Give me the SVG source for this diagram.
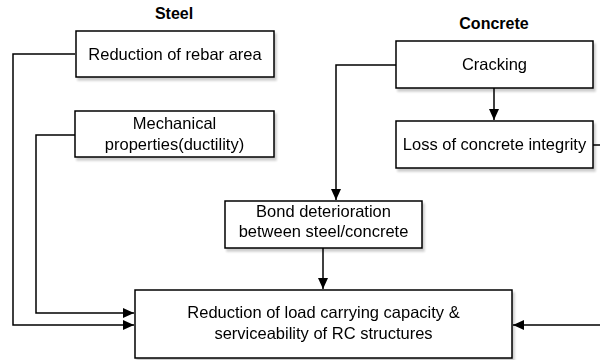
<svg xmlns="http://www.w3.org/2000/svg" width="600" height="360" viewBox="0 0 600 360">
  <style>
    .box { fill: #ffffff; stroke: #000000; stroke-width: 1.5; }
    .lbl { font-family: "Liberation Sans", Arial, sans-serif; font-size: 16.5px; fill: #000000; text-anchor: middle; }
    .title { font-family: "Liberation Sans", Arial, sans-serif; font-size: 16px; font-weight: bold; fill: #000000; text-anchor: middle; }
    .edge { fill: none; stroke: #000000; stroke-width: 1.5; }
  </style>
  <defs>
    <filter id="shadow" x="-10%" y="-10%" width="130%" height="140%">
      <feGaussianBlur in="SourceAlpha" stdDeviation="0.8"/>
      <feOffset dx="2" dy="3" result="off"/>
      <feComponentTransfer><feFuncA type="linear" slope="0.2"/></feComponentTransfer>
      <feMerge><feMergeNode/><feMergeNode in="SourceGraphic"/></feMerge>
    </filter>
    <marker id="arrow" viewBox="0 0 11 10" refX="11" refY="5" markerWidth="11" markerHeight="10" markerUnits="userSpaceOnUse" orient="auto">
      <path d="M0,0 L11,5 L0,10 z" fill="#000000"/>
    </marker>
  </defs>

  <rect width="600" height="360" fill="#ffffff"/>

  <!-- group headings -->
  <text class="title" x="174" y="19">Steel</text>
  <text class="title" x="494" y="29">Concrete</text>

  <!-- connectors -->
  <g id="connectors">
    <path class="edge" d="M75,54 H13 V325 H134" marker-end="url(#arrow)"/>
    <path class="edge" d="M75,135 H36 V313 H134" marker-end="url(#arrow)"/>
    <path class="edge" d="M494,88 V120" marker-end="url(#arrow)"/>
    <path class="edge" d="M396,65 H336 V200" marker-end="url(#arrow)"/>
    <path class="edge" d="M323,248 V289" marker-end="url(#arrow)"/>
    <path class="edge" d="M593,145 H606 V325 H513" marker-end="url(#arrow)"/>
  </g>

  <g id="rebar-area" filter="url(#shadow)">
    <rect class="box" x="76" y="31" width="198" height="46"/>
    <text class="lbl" x="175" y="60">Reduction of rebar area</text>
  </g>

  <g id="mechanical" filter="url(#shadow)">
    <rect class="box" x="75" y="111" width="199" height="46"/>
    <text class="lbl" x="174.5" y="129">Mechanical</text>
    <text class="lbl" x="174.5" y="150">properties(ductility)</text>
  </g>

  <g id="cracking" filter="url(#shadow)">
    <rect class="box" x="396" y="41" width="197" height="47"/>
    <text class="lbl" x="494.5" y="70">Cracking</text>
  </g>

  <g id="integrity" filter="url(#shadow)">
    <rect class="box" x="396" y="121" width="197" height="47"/>
    <text class="lbl" x="494.5" y="150">Loss of concrete integrity</text>
  </g>

  <g id="bond" filter="url(#shadow)">
    <rect class="box" x="225" y="201" width="197" height="47"/>
    <text class="lbl" x="323.5" y="217">Bond deterioration</text>
    <text class="lbl" x="323.5" y="237">between steel/concrete</text>
  </g>

  <g id="capacity" filter="url(#shadow)">
    <rect class="box" x="135" y="290" width="377" height="68"/>
    <text class="lbl" x="323.5" y="318">Reduction of load carrying capacity &amp;</text>
    <text class="lbl" x="323.5" y="339">serviceability of RC structures</text>
  </g>
</svg>
